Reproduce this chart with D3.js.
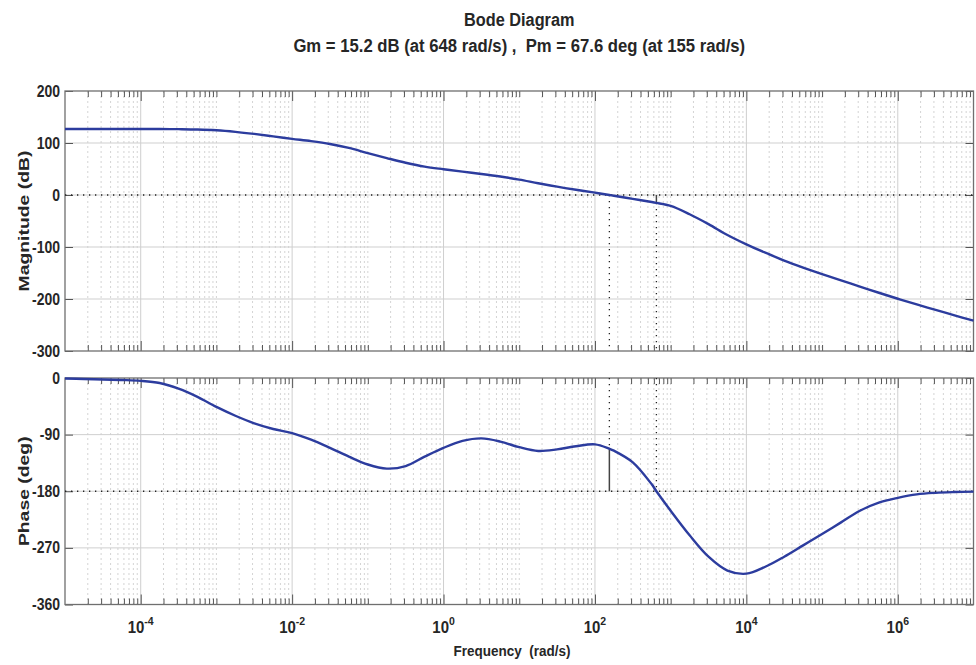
<!DOCTYPE html>
<html>
<head>
<meta charset="utf-8">
<script src="https://cdn.jsdelivr.net/npm/d3@7"></script>
<style>
  body { margin: 0; background: #fff; }
  text { font-family: "Liberation Sans", Arial, Helvetica, sans-serif; font-weight: bold; fill: #262626; white-space: pre; }
</style>
</head>
<body>
<svg id="chart" width="976" height="665"></svg>
<script>
// Open-loop frequency response, sampled every quarter decade (plus the two crossover frequencies)
const freq = [1e-5, 1.78e-5, 3.16e-5, 5.62e-5, 1e-4, 1.78e-4, 3.16e-4, 5.62e-4,
              1e-3, 1.78e-3, 3.16e-3, 5.62e-3, 0.01, 0.0178, 0.0316, 0.0562,
              0.1, 0.178, 0.316, 0.562, 1, 1.78, 3.16, 5.62,
              10, 17.8, 31.6, 56.2, 100, 155, 178, 316, 562, 648,
              1000, 1780, 3160, 5620, 1e4, 1.78e4, 3.16e4, 5.62e4,
              1e5, 1.78e5, 3.16e5, 5.62e5, 1e6, 1.78e6, 3.16e6, 5.62e6, 1e7];

// magnitude in dB
const magDb = [127, 127, 127, 127, 127, 126.9, 126.6, 126,
               124.5, 121.5, 117.5, 112.8, 108, 103.5, 98, 90.5,
               80.5, 71, 62, 54.5, 49.5, 45, 40.5, 35.5,
               29.5, 22.5, 16, 10, 4.5, 0, -1.4, -7.5, -13.5, -15.2,
               -21, -37, -56, -77, -95, -111, -126, -139.5,
               -152, -164, -176, -188, -199.5, -210.5, -221, -231.5, -241.7];

// phase in degrees
const phaseDeg = [-0.8, -1.5, -2.3, -3.2, -4.5, -8, -17, -30,
                  -46, -60, -72, -81, -87.5, -98, -111, -125,
                  -137.5, -144, -140, -125, -111, -100, -96, -101,
                  -110, -116, -113.5, -108.5, -105.5, -112.4, -115.5, -134, -169, -180,
                  -211, -250, -284, -306, -311, -300, -284, -266,
                  -248, -229.5, -211, -198, -190.5, -185, -182.5, -181.3, -180.6];

// Stability margins
const gainMargin = { db: 15.2, freq: 648 };
const phaseMargin = { deg: 67.6, freq: 155 };

const magTicks = [200, 100, 0, -100, -200, -300];
const phaseTicks = [0, -90, -180, -270, -360];
const decadeLabels = [-4, -2, 0, 2, 4, 6];

const titleLines = ["Bode Diagram",
  "Gm = 15.2 dB (at 648 rad/s) ,  Pm = 67.6 deg (at 155 rad/s)"];

// ---- layout ----
const svg = d3.select("#chart");
const L = 65, R = 973.5;
const magTop = 91, magBot = 351;
const phTop = 378, phBot = 604.5;
const lineColor = "#2c3c9e";
const VK = 1.12; // vertical text stretch

const x = d3.scaleLog().domain([1e-5, 1e7]).range([L, R]);
const yMag = d3.scaleLinear().domain([-300, 200]).range([magBot, magTop]);
const yPh = d3.scaleLinear().domain([-360, 0]).range([phBot, phTop]);

// decade / minor tick values
const majorX = decadeLabels.map(e => Math.pow(10, e));
const minorX = [];
for (let e = -5; e < 7; e++) {
  for (let m = 1; m <= 9; m++) {
    const v = m * Math.pow(10, e);
    if (m === 1 && e % 2 === 0) continue;
    if (e === -5 && m === 1) continue;
    minorX.push(v);
  }
}

function label(g, px, py, s, opts = {}) {
  const size = opts.size || 14;
  const anchor = opts.anchor || "middle";
  const rot = opts.rotate || 0;
  const k = opts.k || VK;
  const tr = rot ? `translate(${px},${py}) rotate(${rot}) scale(${k},1)`
                 : `translate(${px},${py}) scale(1,${k})`;
  return g.append("text").attr("transform", tr).attr("text-anchor", anchor)
    .attr("font-size", size).attr("xml:space", "preserve").text(s);
}

function panel(yScale, top, bot, yTicks) {
  const g = svg.append("g");
  // minor vertical grid
  g.selectAll(".mg").data(minorX).join("line")
    .attr("x1", d => x(d)).attr("x2", d => x(d)).attr("y1", top).attr("y2", bot)
    .attr("stroke", "#d4d4d4").attr("stroke-width", 1).attr("stroke-dasharray", "2,3");
  // major vertical grid
  g.selectAll(".Mg").data(majorX).join("line")
    .attr("x1", d => x(d)).attr("x2", d => x(d)).attr("y1", top).attr("y2", bot)
    .attr("stroke", "#cfcfcf").attr("stroke-width", 1);
  // horizontal grid
  g.selectAll(".hg").data(yTicks.slice(1, -1)).join("line")
    .attr("x1", L).attr("x2", R).attr("y1", d => yScale(d)).attr("y2", d => yScale(d))
    .attr("stroke", "#cfcfcf").attr("stroke-width", 1);

  // inward ticks on all four sides
  const mk = (axis, tx, ty) => {
    const a = g.append("g").attr("transform", `translate(${tx},${ty})`).call(axis);
    a.select(".domain").remove();
    a.selectAll("line").attr("stroke", "#555").attr("stroke-width", 1);
    a.selectAll("text").remove();
    return a;
  };
  mk(d3.axisBottom(x).tickValues(minorX).tickSize(-6).tickFormat(""), 0, bot);
  mk(d3.axisBottom(x).tickValues(majorX).tickSize(-10).tickFormat(""), 0, bot);
  mk(d3.axisTop(x).tickValues(minorX).tickSize(-6).tickFormat(""), 0, top);
  mk(d3.axisTop(x).tickValues(majorX).tickSize(-10).tickFormat(""), 0, top);
  mk(d3.axisLeft(yScale).tickValues(yTicks).tickSize(-8).tickFormat(""), L, 0);
  mk(d3.axisRight(yScale).tickValues(yTicks).tickSize(-8).tickFormat(""), R, 0);

  // box
  g.append("rect").attr("x", L).attr("y", top).attr("width", R - L).attr("height", bot - top)
    .attr("fill", "none").attr("stroke", "#6f6f6f").attr("stroke-width", 1.3);

  // y tick labels
  yTicks.forEach(t => {
    label(g, L - 5, yScale(t) + 5.5, String(t), { size: 14, anchor: "end" });
  });
  return g;
}

const gMag = panel(yMag, magTop, magBot, magTicks);
const gPh = panel(yPh, phTop, phBot, phaseTicks);

// reference lines: 0 dB and -180 deg
const dotted = { stroke: "#222", w: 1.3, dash: "1.3,4.7" };
function dline(g, x1, y1, x2, y2) {
  g.append("line").attr("x1", x1).attr("y1", y1).attr("x2", x2).attr("y2", y2)
    .attr("stroke", dotted.stroke).attr("stroke-width", dotted.w).attr("stroke-dasharray", dotted.dash);
}
dline(gMag, L, yMag(0), R, yMag(0));
dline(gPh, L, yPh(-180), R, yPh(-180));

// margin markers
const xPm = x(phaseMargin.freq), xGm = x(gainMargin.freq);
dline(gMag, xPm, yMag(0), xPm, magBot);
dline(gMag, xGm, yMag(-gainMargin.db), xGm, magBot);
gMag.append("line").attr("x1", xGm).attr("x2", xGm).attr("y1", yMag(0)).attr("y2", yMag(-gainMargin.db))
  .attr("stroke", "#444").attr("stroke-width", 1.5);
dline(gPh, xPm, phTop, xPm, yPh(-180 + phaseMargin.deg));
gPh.append("line").attr("x1", xPm).attr("x2", xPm).attr("y1", yPh(-180 + phaseMargin.deg)).attr("y2", yPh(-180))
  .attr("stroke", "#444").attr("stroke-width", 1.5);
dline(gPh, xGm, phTop, xGm, yPh(-180));

// response curves
const magData = freq.map((f, i) => ({ f, v: magDb[i] }));
const phData = freq.map((f, i) => ({ f, v: phaseDeg[i] }));
const curve = d3.curveCatmullRom.alpha(0.5);
gMag.append("path").datum(magData)
  .attr("d", d3.line().x(d => x(d.f)).y(d => yMag(d.v)).curve(curve))
  .attr("fill", "none").attr("stroke", lineColor).attr("stroke-width", 2.4);
gPh.append("path").datum(phData)
  .attr("d", d3.line().x(d => x(d.f)).y(d => yPh(d.v)).curve(curve))
  .attr("fill", "none").attr("stroke", lineColor).attr("stroke-width", 2.4);

// x tick labels (powers of ten)
const gx = svg.append("g");
decadeLabels.forEach(e => {
  const t = gx.append("text").attr("transform", `translate(${x(Math.pow(10, e))},633) scale(1,${VK})`)
    .attr("text-anchor", "middle").attr("font-size", 15);
  t.append("tspan").text("10");
  t.append("tspan").attr("font-size", 10.5).attr("dy", -7).text(String(e));
});

// titles and axis labels
label(svg, (L + R) / 2, 26, titleLines[0], { size: 16.3 });
label(svg, (L + R) / 2, 52, titleLines[1], { size: 16.7 });
label(svg, 512, 656, "Frequency  (rad/s)", { size: 13.5 });
label(svg, 29, (magTop + magBot) / 2, "Magnitude (dB)", { size: 15.5, rotate: -90, k: 1.25 });
label(svg, 29, (phTop + phBot) / 2, "Phase (deg)", { size: 15.5, rotate: -90, k: 1.25 });
</script>
</body>
</html>
